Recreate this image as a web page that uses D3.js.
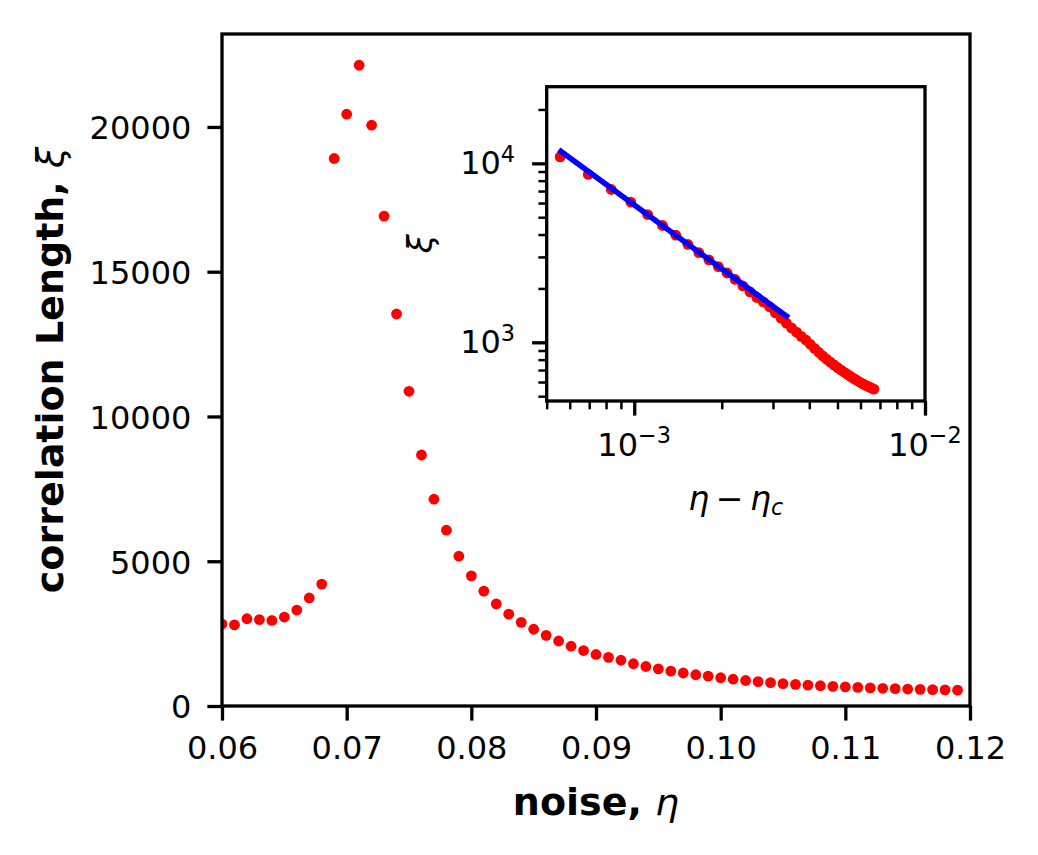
<!DOCTYPE html>
<html>
<head>
<meta charset="utf-8">
<script src="https://d3js.org/d3.v7.min.js"></script>
<style>
  body { margin: 0; background: #fff; }
  text { font-family: "DejaVu Sans", sans-serif; fill: #000; }
</style>
</head>
<body>
<script>
// main panel: correlation length vs noise
var noise = [0.060, 0.061, 0.062, 0.063, 0.064, 0.065, 0.066, 0.067, 0.068, 0.069,
             0.070, 0.071, 0.072, 0.073, 0.074, 0.075, 0.076, 0.077, 0.078, 0.079,
             0.080, 0.081, 0.082, 0.083, 0.084, 0.085, 0.086, 0.087, 0.088, 0.089,
             0.090, 0.091, 0.092, 0.093, 0.094, 0.095, 0.096, 0.097, 0.098, 0.099,
             0.100, 0.101, 0.102, 0.103, 0.104, 0.105, 0.106, 0.107, 0.108, 0.109,
             0.110, 0.111, 0.112, 0.113, 0.114, 0.115, 0.116, 0.117, 0.118, 0.119];
var xi = [2834, 2803, 3014, 2982, 2955, 3072, 3314, 3732, 4211, 18910,
          20440, 22130, 20060, 16920, 13540, 10870, 8670, 7142, 6072, 5174,
          4495, 3966, 3528, 3172, 2890, 2650, 2440, 2245, 2065, 1915,
          1780, 1680, 1580, 1460, 1365, 1280, 1205, 1140, 1080, 1030,
          975, 925, 880, 840, 805, 775, 748, 722, 700, 680,
          661, 643, 627, 612, 598, 586, 575, 565, 556, 548];

// inset: xi vs (eta - eta_c), log-log
var insetDx = [5.56e-4, 6.95e-4, 8.34e-4, 9.73e-4, 1.112e-3, 1.251e-3, 1.390e-3, 1.529e-3, 1.668e-3,
               1.807e-3, 1.946e-3, 2.085e-3, 2.224e-3, 2.363e-3, 2.502e-3, 2.641e-3, 2.780e-3,
               2.919e-3, 3.058e-3, 3.197e-3, 3.336e-3, 3.475e-3, 3.614e-3, 3.753e-3, 3.892e-3,
               4.031e-3, 4.170e-3, 4.309e-3, 4.448e-3, 4.587e-3, 4.726e-3, 4.865e-3, 5.004e-3,
               5.143e-3, 5.282e-3, 5.421e-3, 5.560e-3, 5.699e-3, 5.838e-3, 5.977e-3, 6.116e-3,
               6.255e-3, 6.394e-3, 6.533e-3, 6.672e-3];
var insetXi = xi.slice(15);
var fitDx = [5.5e-4, 3.4e-3];
var fitXi = [11900, 1370];

var xTicks = [0.06, 0.07, 0.08, 0.09, 0.10, 0.11, 0.12];
var yTicks = [0, 5000, 10000, 15000, 20000];
var insetXTicks = [1e-3, 1e-2];
var insetXExp = ['\u22123', '\u22122'];
var insetXMinor = [5e-4, 6e-4, 7e-4, 8e-4, 9e-4, 2e-3, 3e-3, 4e-3, 5e-3, 6e-3, 7e-3, 8e-3, 9e-3];
var insetYTicks = [1e3, 1e4];
var insetYExp = ['3', '4'];
var insetYMinor = [500, 600, 700, 800, 900, 2000, 3000, 4000, 5000, 6000, 7000, 8000, 9000, 20000];

var W = 1038, H = 855,
    tickLen = 14.6, minorLen = 8.3,
    spineW = 3.3, tickW = 3.3, minorW = 2.5,
    tickFont = 32, labelFont = 38,
    dotR = 5.4;

var svg = d3.select('body').append('svg')
  .attr('width', W)
  .attr('height', H);

// ---------- main axes ----------
var mL = 222, mR = 970, mT = 34, mB = 706;
var x = d3.scaleLinear().domain([0.06, 0.12]).range([mL, mR]);
var y = d3.scaleLinear().domain([0, 23210]).range([mB, mT]);

svg.append('clipPath').attr('id', 'mainClip')
  .append('rect')
  .attr('x', mL).attr('y', mT)
  .attr('width', mR - mL).attr('height', mB - mT);

svg.append('g').attr('clip-path', 'url(#mainClip)')
  .selectAll('circle').data(noise).enter().append('circle')
  .attr('cx', function(d) { return x(d); })
  .attr('cy', function(d, i) { return y(xi[i]); })
  .attr('r', dotR)
  .attr('fill', '#ff0000');

var xAxis = svg.append('g')
  .attr('transform', 'translate(0,' + mB + ')')
  .call(d3.axisBottom(x).tickValues(xTicks).tickFormat(d3.format('.2f'))
    .tickSize(tickLen).tickPadding(tickLen));

var yAxis = svg.append('g')
  .attr('transform', 'translate(' + mL + ',0)')
  .call(d3.axisLeft(y).tickValues(yTicks).tickFormat(d3.format('d'))
    .tickSize(tickLen).tickPadding(16));

[xAxis, yAxis].forEach(function(a) {
  a.select('.domain').remove();
  a.selectAll('line').attr('stroke', '#000').attr('stroke-width', tickW);
  a.selectAll('text').attr('font-size', tickFont).attr('font-family', 'DejaVu Sans');
});
yAxis.selectAll('text').attr('dy', '0.37em');
xAxis.selectAll('text').attr('dy', '0.75em');

svg.append('rect')
  .attr('x', mL).attr('y', mT)
  .attr('width', mR - mL).attr('height', mB - mT)
  .attr('fill', 'none')
  .attr('stroke', '#000')
  .attr('stroke-width', spineW);

var xl = svg.append('text')
  .attr('x', (mL + mR) / 2).attr('y', 815)
  .attr('text-anchor', 'middle')
  .attr('font-size', labelFont);
xl.append('tspan').attr('font-weight', 'bold').text('noise, ');
xl.append('tspan').attr('font-style', 'italic').text('\u03b7');

var yl = svg.append('text')
  .attr('transform', 'translate(63,' + (mT + mB) / 2 + ') rotate(-90)')
  .attr('text-anchor', 'middle')
  .attr('font-size', labelFont);
yl.append('tspan').attr('font-weight', 'bold').text('correlation Length, ');
yl.append('tspan').attr('font-style', 'italic').text('\u03be');

// ---------- inset axes ----------
var iL = 546.7, iR = 925, iT = 86.7, iB = 401;
var ix = d3.scaleLog().domain([5e-4, 1e-2]).range([iL, iR]);
var iy = d3.scaleLog().domain([470, 26800]).range([iB, iT]);

svg.append('rect')
  .attr('x', iL).attr('y', iT)
  .attr('width', iR - iL).attr('height', iB - iT)
  .attr('fill', '#fff');

svg.append('clipPath').attr('id', 'insetClip')
  .append('rect')
  .attr('x', iL).attr('y', iT)
  .attr('width', iR - iL).attr('height', iB - iT);

var inset = svg.append('g').attr('clip-path', 'url(#insetClip)');

inset.selectAll('circle').data(insetDx).enter().append('circle')
  .attr('cx', function(d) { return ix(d); })
  .attr('cy', function(d, i) { return iy(insetXi[i]); })
  .attr('r', dotR)
  .attr('fill', '#ff0000');

inset.append('path')
  .datum(fitDx)
  .attr('d', d3.line()
    .x(function(d) { return ix(d); })
    .y(function(d, i) { return iy(fitXi[i]); }))
  .attr('fill', 'none')
  .attr('stroke', '#0000ff')
  .attr('stroke-width', 5.5);

// inset ticks
var ixAxis = svg.append('g').attr('transform', 'translate(0,' + iB + ')');
ixAxis.call(d3.axisBottom(ix).tickValues(insetXMinor).tickSize(minorLen).tickFormat(''));
ixAxis.selectAll('line').attr('stroke-width', minorW);
var ixMajor = svg.append('g').attr('transform', 'translate(0,' + iB + ')')
  .call(d3.axisBottom(ix).tickValues(insetXTicks).tickSize(tickLen).tickFormat(''));
ixMajor.selectAll('line').attr('stroke-width', tickW);

var iyAxis = svg.append('g').attr('transform', 'translate(' + iL + ',0)');
iyAxis.call(d3.axisLeft(iy).tickValues(insetYMinor).tickSize(minorLen).tickFormat(''));
iyAxis.selectAll('line').attr('stroke-width', minorW);
var iyMajor = svg.append('g').attr('transform', 'translate(' + iL + ',0)')
  .call(d3.axisLeft(iy).tickValues(insetYTicks).tickSize(tickLen).tickFormat(''));
iyMajor.selectAll('line').attr('stroke-width', tickW);

[ixAxis, ixMajor, iyAxis, iyMajor].forEach(function(a) {
  a.select('.domain').remove();
  a.selectAll('line').attr('stroke', '#000');
});

// power-of-ten labels: "10" plus superscript
function powLabel(sel, exp) {
  sel.append('tspan').text('10');
  sel.append('tspan')
    .attr('font-size', tickFont * 0.7)
    .attr('dy', -tickFont * 0.4)
    .text(exp);
}

insetXTicks.forEach(function(t, i) {
  var tx = svg.append('text')
    .attr('x', ix(t)).attr('y', 456)
    .attr('text-anchor', 'middle')
    .attr('font-size', tickFont);
  powLabel(tx, insetXExp[i]);
});

insetYTicks.forEach(function(t, i) {
  var ty = svg.append('text')
    .attr('x', iL - tickLen - 17).attr('y', iy(t) + 11)
    .attr('text-anchor', 'end')
    .attr('font-size', tickFont);
  powLabel(ty, insetYExp[i]);
});

svg.append('rect')
  .attr('x', iL).attr('y', iT)
  .attr('width', iR - iL).attr('height', iB - iT)
  .attr('fill', 'none')
  .attr('stroke', '#000')
  .attr('stroke-width', spineW);

var ixl = svg.append('text')
  .attr('x', (iL + iR) / 2).attr('y', 510)
  .attr('text-anchor', 'middle')
  .attr('font-size', tickFont + 1);
ixl.append('tspan').attr('font-style', 'italic').text('\u03b7');
ixl.append('tspan').text('\u2009\u2212\u2009');
ixl.append('tspan').attr('font-style', 'italic').text('\u03b7');
ixl.append('tspan').attr('font-style', 'italic')
  .attr('font-size', tickFont * 0.7).attr('dy', 5).text('c');

svg.append('text')
  .attr('transform', 'translate(432,' + (iT + iB) / 2 + ') rotate(-90)')
  .attr('text-anchor', 'middle')
  .attr('font-size', tickFont + 2)
  .attr('font-style', 'italic')
  .text('\u03be');
</script>
</body>
</html>
